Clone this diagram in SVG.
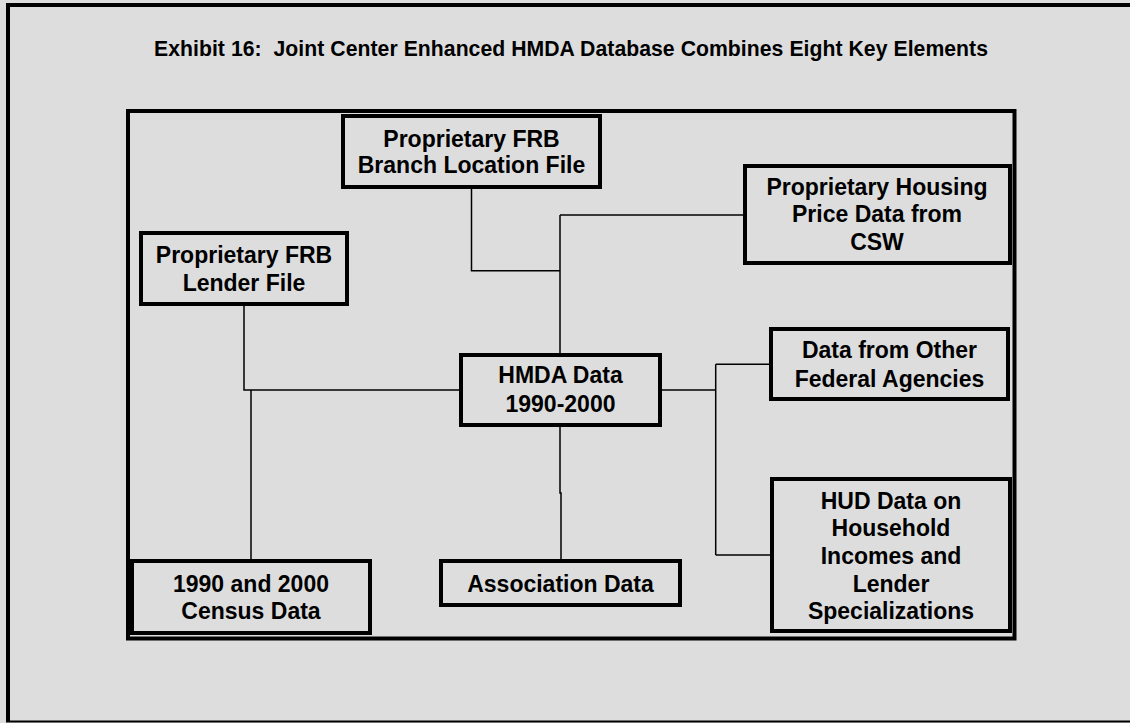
<svg xmlns="http://www.w3.org/2000/svg" width="1130" height="723" viewBox="0 0 1130 723">
<style>
.box{fill:#DDDDDD;stroke:#000;stroke-width:4}
.t{font-family:"Liberation Sans",Arial,sans-serif;font-weight:bold;font-size:23px;fill:#000;text-anchor:middle}
.title{font-family:"Liberation Sans",Arial,sans-serif;font-weight:bold;font-size:21.2px;fill:#000}
.c{fill:none;stroke:#000;stroke-width:1.5}
</style>
<rect x="0" y="0" width="1130" height="723" fill="#DDDDDD"/>
<g id="outer-frame">
<line x1="8" y1="3" x2="8" y2="722" stroke="#000" stroke-width="4"/>
<line x1="6" y1="5" x2="1130" y2="5" stroke="#000" stroke-width="4"/>
<line x1="6" y1="721.5" x2="1130" y2="721.5" stroke="#000" stroke-width="2"/>
</g>
<text id="title" class="title" x="154" y="55.5" textLength="834" lengthAdjust="spacing" xml:space="preserve">Exhibit 16:  Joint Center Enhanced HMDA Database Combines Eight Key Elements</text>
<rect id="inner-frame" x="128" y="111" width="886.5" height="527.5" fill="none" stroke="#000" stroke-width="4"/>
<g id="connectors">
<path class="c" d="M471.5 189 V270.7 H560"/>
<path class="c" d="M560 215 V353"/>
<path class="c" d="M560 215 H743"/>
<path class="c" d="M244 306 V390 H459"/>
<path class="c" d="M251 390 V559"/>
<path class="c" d="M560 427 V493 H561 V559"/>
<path class="c" d="M662 390 H715.7"/>
<path class="c" d="M715.7 364.3 V555"/>
<path class="c" d="M715.7 364.3 H769"/>
<path class="c" d="M715.7 555 H770"/>
</g>
<g id="branch">
<rect class="box" x="343" y="116" width="257" height="71"/>
<text class="t" x="471.5" y="146.7">Proprietary FRB</text>
<text class="t" x="471.5" y="173.3">Branch Location File</text>
</g>
<g id="lender">
<rect class="box" x="141" y="233" width="206" height="71"/>
<text class="t" x="244" y="262.7">Proprietary FRB</text>
<text class="t" x="244" y="290.7">Lender File</text>
</g>
<g id="housing">
<rect class="box" x="745" y="166" width="265" height="97"/>
<text class="t" x="877" y="195">Proprietary Housing</text>
<text class="t" x="877" y="221.7">Price Data from</text>
<text class="t" x="877" y="250">CSW</text>
</g>
<g id="hmda">
<rect class="box" x="461" y="355" width="199" height="70"/>
<text class="t" x="560.5" y="383.3">HMDA Data</text>
<text class="t" x="560.5" y="411.7">1990-2000</text>
</g>
<g id="other-federal">
<rect class="box" x="771" y="329" width="237" height="70"/>
<text class="t" x="889.5" y="358.3">Data from Other</text>
<text class="t" x="889.5" y="386.7">Federal Agencies</text>
</g>
<g id="hud">
<rect class="box" x="772" y="479" width="238" height="152"/>
<text class="t" x="891" y="509.3">HUD Data on</text>
<text class="t" x="891" y="536">Household</text>
<text class="t" x="891" y="564">Incomes and</text>
<text class="t" x="891" y="591.7">Lender</text>
<text class="t" x="891" y="619.3">Specializations</text>
</g>
<g id="census">
<rect class="box" x="132" y="561" width="238" height="72"/>
<text class="t" x="251" y="591.7">1990 and 2000</text>
<text class="t" x="251" y="619.3">Census Data</text>
</g>
<g id="association">
<rect class="box" x="441" y="561" width="239" height="44"/>
<text class="t" x="560.5" y="591.7">Association Data</text>
</g>
</svg>
